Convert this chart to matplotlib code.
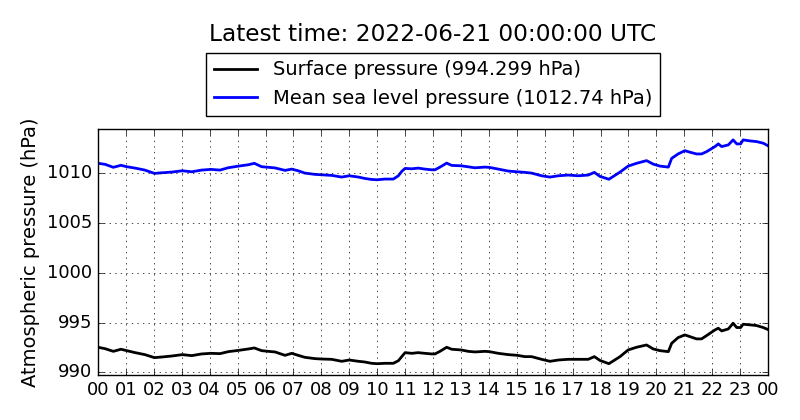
import matplotlib
matplotlib.use("Agg")
import matplotlib.pyplot as plt

# hours since 2022-06-20 00:00 UTC
hours = [0.0, 0.25, 0.55, 0.82, 1.03, 1.33, 1.68, 2.02, 2.28, 2.64, 3.02, 3.36,
         3.71, 4.04, 4.37, 4.67, 5.04, 5.39, 5.6, 5.86, 6.1, 6.34, 6.7, 6.94,
         7.17, 7.41, 7.77, 8.0, 8.37, 8.73, 9.0, 9.33, 9.56, 9.8, 10.0, 10.28,
         10.58, 10.76, 10.88, 11.0, 11.24, 11.47, 11.71, 11.95, 12.07, 12.25,
         12.49, 12.67, 13.01, 13.26, 13.5, 13.86, 14.02, 14.34, 14.7, 15.02,
         15.29, 15.53, 15.89, 16.19, 16.49, 16.84, 17.2, 17.56, 17.78, 17.98,
         18.3, 18.7, 18.99, 19.29, 19.65, 19.89, 20.13, 20.43, 20.55, 20.78,
         21.02, 21.2, 21.44, 21.62, 21.8, 22.1, 22.22, 22.34, 22.58, 22.75,
         22.88, 23.02, 23.11, 23.35, 23.59, 23.83, 24.0]

surface = [992.52, 992.38, 992.11, 992.32, 992.18, 991.98, 991.78, 991.48,
           991.54, 991.64, 991.78, 991.68, 991.85, 991.91, 991.88, 992.08,
           992.21, 992.35, 992.45, 992.18, 992.11, 992.05, 991.71, 991.91,
           991.71, 991.51, 991.38, 991.34, 991.31, 991.11, 991.24, 991.11,
           991.04, 990.91, 990.87, 990.91, 990.91, 991.17, 991.58, 991.98,
           991.91, 991.98, 991.91, 991.85, 991.85, 992.11, 992.52, 992.32,
           992.25, 992.11, 992.05, 992.11, 992.08, 991.91, 991.78, 991.71,
           991.58, 991.58, 991.31, 991.11, 991.24, 991.31, 991.31, 991.31,
           991.58, 991.2, 990.87, 991.58, 992.25, 992.52, 992.75, 992.35,
           992.18, 992.08, 992.92, 993.49, 993.76, 993.59, 993.36, 993.36,
           993.69, 994.26, 994.43, 994.16, 994.36, 994.93, 994.5, 994.5,
           994.83, 994.77, 994.7, 994.5, 994.299]

msl = [1010.98, 1010.88, 1010.58, 1010.78, 1010.64, 1010.5, 1010.3, 1009.97,
       1010.03, 1010.1, 1010.23, 1010.13, 1010.3, 1010.37, 1010.3, 1010.54,
       1010.7, 1010.84, 1010.98, 1010.64, 1010.58, 1010.52, 1010.27, 1010.4,
       1010.23, 1010.0, 1009.87, 1009.83, 1009.77, 1009.6, 1009.73, 1009.6,
       1009.46, 1009.36, 1009.33, 1009.4, 1009.4, 1009.73, 1010.17, 1010.47,
       1010.43, 1010.5, 1010.4, 1010.33, 1010.33, 1010.6, 1011.0, 1010.77,
       1010.73, 1010.63, 1010.53, 1010.6, 1010.57, 1010.4, 1010.2, 1010.13,
       1010.07, 1010.0, 1009.73, 1009.6, 1009.73, 1009.8, 1009.73, 1009.8,
       1010.07, 1009.67, 1009.38, 1010.1, 1010.7, 1010.98, 1011.25, 1010.9,
       1010.7, 1010.6, 1011.48, 1011.92, 1012.25, 1012.1, 1011.92, 1011.92,
       1012.15, 1012.66, 1012.93, 1012.66, 1012.83, 1013.33, 1012.93, 1012.93,
       1013.33, 1013.23, 1013.16, 1013.0, 1012.74]

xtick_labels = ["00", "01", "02", "03", "04", "05", "06", "07", "08", "09",
                "10", "11", "12", "13", "14", "15", "16", "17", "18", "19",
                "20", "21", "22", "23", "00"]
ytick_values = [990, 995, 1000, 1005, 1010]

plt.style.use("classic")
fig = plt.figure(figsize=(8, 4.2), dpi=100, facecolor="white")
ax = fig.add_axes([0.1225, 0.107, 0.8375, 0.586])

ax.plot(hours, surface, color="black", lw=2,
        label="Surface pressure (%.3f hPa)" % surface[-1])
ax.plot(hours, msl, color="blue", lw=2,
        label="Mean sea level pressure (%.2f hPa)" % msl[-1])

ax.set_xlim(0, 24)
ax.set_ylim(989.73, 1014.43)
ax.set_xticks(range(len(xtick_labels)))
ax.set_xticklabels(xtick_labels)
ax.set_yticks(ytick_values)
ax.ticklabel_format(axis="y", useOffset=False)
ax.tick_params(labelsize=13)
ax.grid(True)
ax.set_ylabel("Atmospheric pressure (hPa)", fontsize=14)

# legend sits above the axes, centred
ax.legend(loc="lower center", bbox_to_anchor=(0.5, 1.053), fontsize=14,
          numpoints=1, borderaxespad=0, handlelength=2.25)
fig.text(0.541, 0.917, "Latest time: 2022-06-21 00:00:00 UTC",
         ha="center", va="center", fontsize=16.75)

fig.savefig("out.png", dpi=100, facecolor="white")
